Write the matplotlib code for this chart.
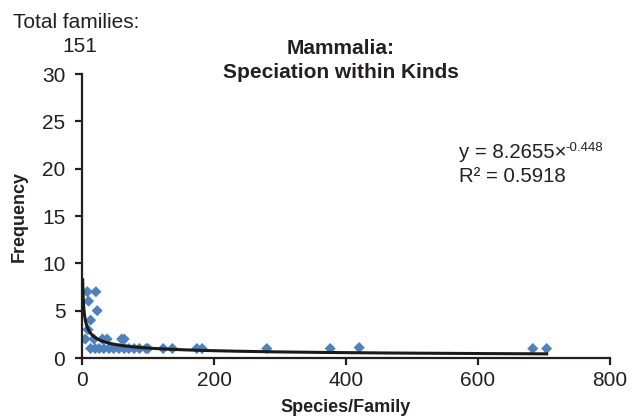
import matplotlib
matplotlib.use("Agg")
import matplotlib.pyplot as plt
import numpy as np

plt.rcParams["font.family"] = ["Liberation Sans", "DejaVu Sans"]

# species per family vs. number of families
species_per_family = [8, 21, 10, 23, 13, 9, 5, 18, 31, 38, 60, 64,
                      13, 20, 26, 33, 41, 48, 56, 64, 71, 79, 87, 97,
                      100, 123, 137, 174, 182, 280, 376, 420, 683, 704]
frequency = [7, 7, 6, 5, 4, 3, 2, 2, 2, 2, 2, 2,
             1, 1, 1, 1, 1, 1, 1, 1, 1, 1, 1, 1,
             1, 1, 1, 1, 1, 1, 1, 1.1, 1, 1]

# power trendline as printed on the chart
fit_a = 8.2655
fit_b = -0.448
fit_r2 = 0.5918
fit_x_start = 1.0

title_lines = ["Mammalia:", "Speciation within Kinds"]
total_families = 151

W, H = 637, 419
INK = "#231f20"
AX_L, AX_R, AX_T, AX_B = 82, 610, 74, 358   # plot area in pixels
fig = plt.figure(figsize=(W / 100, H / 100), dpi=100)
ax = fig.add_axes([AX_L / W, 1 - AX_B / H, (AX_R - AX_L) / W, (AX_B - AX_T) / H])

ax.scatter(species_per_family, frequency, marker="D", s=32,
           color="#4F81BD", edgecolors="none", zorder=2)

xs = np.linspace(fit_x_start, max(species_per_family), 800)
ax.plot(xs, fit_a * xs ** fit_b, color="#1a1a1a", lw=2.2, zorder=3)

ax.set_xlim(0, 800)
ax.set_ylim(0, 30)
ax.set_xticks([0, 200, 400, 600, 800])
ax.set_yticks([0, 5, 10, 15, 20, 25, 30])
for side in ["top", "right"]:
    ax.spines[side].set_visible(False)
for side in ["left", "bottom"]:
    ax.spines[side].set_linewidth(1.6)
    ax.spines[side].set_color(INK)
ax.tick_params(direction="out", length=5, width=1.6, color=INK,
               labelsize=15, labelcolor=INK)
ax.tick_params(axis="y", pad=7)
ax.tick_params(axis="x", pad=4)

ax.set_xlabel("Species/Family", fontsize=13, fontweight="bold", color=INK)
ax.xaxis.set_label_coords(0.5, (AX_B - 407) / (AX_B - AX_T))
ax.xaxis.label.set(va="center")
ax.set_ylabel("Frequency", fontsize=13, fontweight="bold", color=INK)
ax.yaxis.set_label_coords((19 - AX_L) / (AX_R - AX_L), 0.5)
ax.yaxis.label.set(va="center", rotation_mode="anchor")

fig.text(13 / W, 1 - 22 / H, "Total families:", fontsize=15,
         color=INK, ha="left", va="center")
fig.text(80 / W, 1 - 47 / H, str(total_families), fontsize=15,
         color=INK, ha="center", va="center")
fig.text(341 / W, 1 - 48 / H, title_lines[0], fontsize=15, fontweight="bold",
         color=INK, ha="center", va="center")
fig.text(341 / W, 1 - 73 / H, title_lines[1], fontsize=15, fontweight="bold",
         color=INK, ha="center", va="center")

# trendline equation; exponent drawn as a small raised label after the base
eq = fig.text(459 / W, 1 - 152 / H, "y = %s×" % fit_a, fontsize=14.7,
              color=INK, ha="left", va="center")
ax.annotate("%s" % fit_b, xy=(1.0, 0.42), xycoords=eq, xytext=(-0.5, 0),
            textcoords="offset points", fontsize=9.5, color=INK,
            ha="left", va="bottom", annotation_clip=False)
fig.text(459 / W, 1 - 176 / H, "R² = %s" % fit_r2, fontsize=14.7,
         color=INK, ha="left", va="center")

fig.savefig("out.png", dpi=100, facecolor="white")
